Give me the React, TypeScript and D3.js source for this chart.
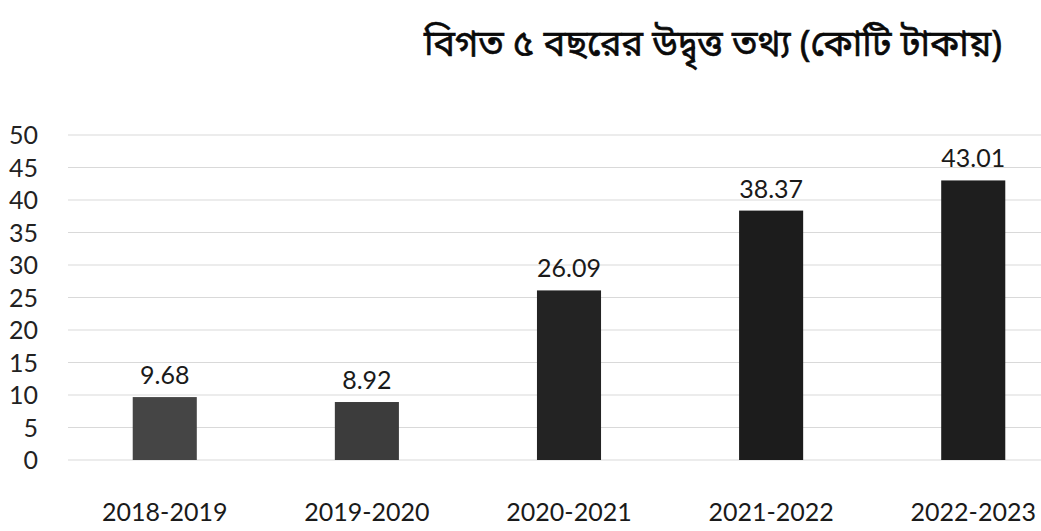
import React from "react";
import * as d3 from "d3";

const categories = ["2018-2019", "2019-2020", "2020-2021", "2021-2022", "2022-2023"];
const values = [9.68, 8.92, 26.09, 38.37, 43.01];
const yTicks = [0, 5, 10, 15, 20, 25, 30, 35, 40, 45, 50];
const title = "বিগত ৫ বছরের উদ্বৃত্ত তথ্য (কোটি টাকায়)";

const barColors = ["#454545", "#3c3c3c", "#232323", "#1c1c1c", "#1e1e1e"];

export default function App() {
  const W = 1041;
  const H = 531;
  const x = d3.scaleBand<string>().domain(categories).range([64, 1074]).paddingInner(0.683).paddingOuter(0.34);
  const y = d3.scaleLinear().domain([0, 50]).range([460, 135]);
  const font = "Lato, 'Open Sans', sans-serif";
  return (
    <svg width={W} height={H} style={{ position: "absolute", left: 0, top: 0, background: "#fff" }}>
      <text x={713} y={56} textAnchor="middle" fontSize={36} fontFamily="'Noto Sans Bengali', 'Noto Sans', sans-serif" fill="#0a0a0a" stroke="#0a0a0a" strokeWidth={0.6}>
        {title}
      </text>
      {yTicks.map((t) => (
        <g key={t}>
          <line x1={68} x2={W} y1={y(t)} y2={y(t)} stroke="#d9d9d9" strokeWidth={1} />
          <text x={38} y={y(t)} dy="0.36em" textAnchor="end" fontSize={25} fontFamily={font} fill="#222">
            {t}
          </text>
        </g>
      ))}
      {categories.map((c, i) => {
        const bx = x(c)!;
        const bw = x.bandwidth();
        return (
          <g key={c}>
            <rect x={bx} y={y(values[i])} width={bw} height={y(0) - y(values[i])} fill={barColors[i]} />
            <text x={bx + bw / 2} y={y(values[i]) - 13} textAnchor="middle" fontSize={25} fontFamily={font} fill="#1a1a1a">
              {values[i].toFixed(2)}
            </text>
            <text x={bx + bw / 2} y={521} textAnchor="middle" fontSize={25} fontFamily={font} fill="#1a1a1a">
              {c}
            </text>
          </g>
        );
      })}
    </svg>
  );
}
